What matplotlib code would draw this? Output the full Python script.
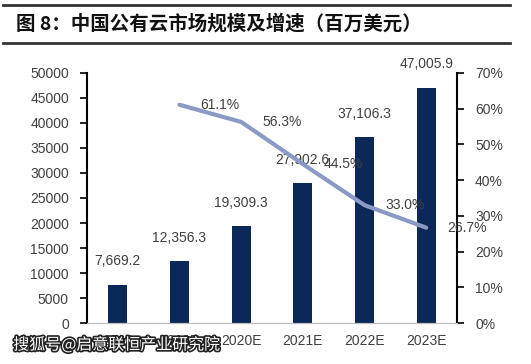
import matplotlib.pyplot as plt
import matplotlib.patheffects as pe
from matplotlib.lines import Line2D

plt.rcParams['font.family'] = ['Liberation Sans', 'Noto Sans CJK SC', 'DejaVu Sans']

years = ['2018', '2019E', '2020E', '2021E', '2022E', '2023E']
market = [7669.2, 12356.3, 19309.3, 27902.6, 37106.3, 47005.9]
growth_years = ['2019E', '2020E', '2021E', '2022E', '2023E']
growth = [61.1, 56.3, 44.5, 33.0, 26.7]

bar_color = '#0c2859'
line_color = '#8a9ac4'
text_color = '#404040'

fig = plt.figure(figsize=(5.31, 3.64), dpi=100)
ax = fig.add_axes([0.1638, 0.1126, 0.6968, 0.6869])
ax2 = ax.twinx()

x = list(range(len(years)))
ax.bar(x, market, width=0.31, color=bar_color, zorder=2)
for xi, v in zip(x, market):
    ax.annotate('{:,.1f}'.format(v), (xi, v), xytext=(0, 12), textcoords='offset points',
                ha='center', va='bottom', fontsize=10, color=text_color)

gx = [years.index(y) for y in growth_years]
ax2.plot(gx, growth, color=line_color, lw=3, solid_capstyle='round', zorder=3)
for xi, g in zip(gx, growth):
    ax2.annotate('{:.1f}%'.format(g), (xi, g), xytext=(15, 0), textcoords='offset points',
                 ha='left', va='center', fontsize=10, color=text_color)

ax.set_xlim(-0.5, 5.5)
ax.set_ylim(0, 50000)
ax.set_yticks(range(0, 50001, 5000))
ax2.set_ylim(0, 70)
ax2.set_yticks(range(0, 71, 10))
ax2.set_yticklabels(['{}%'.format(t) for t in range(0, 71, 10)])
ax.set_xticks(x)
ax.set_xticklabels(years)

for a in (ax, ax2):
    a.spines['top'].set_visible(False)
    a.spines['left'].set_linewidth(1.5)
    a.spines['right'].set_linewidth(1.5)
    a.spines['bottom'].set_color('#bfbfbf')
    a.tick_params(axis='y', labelsize=10, labelcolor=text_color, length=5, width=1.2, pad=8)
ax.spines['right'].set_visible(False)
ax2.spines['left'].set_visible(False)
ax.tick_params(axis='x', length=0, labelsize=10, labelcolor=text_color, pad=8)

ax.set_zorder(ax2.get_zorder() - 1)
ax2.patch.set_visible(False)

fig.add_artist(Line2D([0.006, 0.96], [0.986, 0.986], color='#333333', lw=2))
fig.add_artist(Line2D([0.006, 0.96], [0.882, 0.882], color='#333333', lw=2))
fig.text(0.03, 0.934, '图 8：中国公有云市场规模及增速（百万美元）', fontsize=14,
         fontweight='heavy', family=['Noto Sans CJK SC', 'DejaVu Sans'], va='center', color='#111111')

fig.text(0.025, 0.052, '搜狐号@启意联恒产业研究院', fontsize=11.5, color='white',
         family=['Noto Sans CJK SC', 'DejaVu Sans'], va='center', zorder=10,
         path_effects=[pe.withStroke(linewidth=2.4, foreground='#222222')])

fig.savefig('out.png', dpi=100)
